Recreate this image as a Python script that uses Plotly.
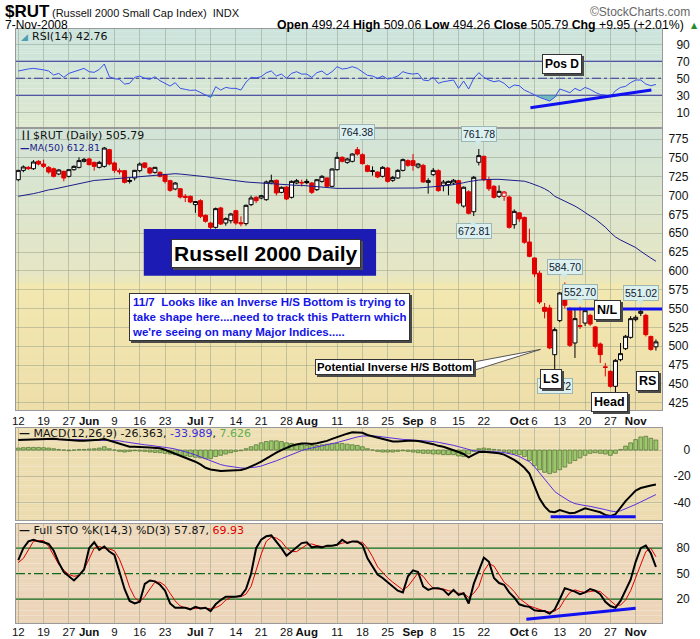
import pandas as pd
import plotly.graph_objects as go
from plotly.subplots import make_subplots

# ---------------------------------------------------------------- data
HOLIDAYS = {"2008-05-26", "2008-07-04", "2008-09-01"}
dates = [d.strftime("%Y-%m-%d") for d in pd.bdate_range("2008-05-12", "2008-11-07")
         if d.strftime("%Y-%m-%d") not in HOLIDAYS]

open_ = [721.0, 733.4, 737.4, 735.6, 745.4, 741.8, 737.4, 735.6, 728.6, 732.1,
         725.5, 734.3, 737.4, 745.4, 748.5, 744.0, 737.4, 738.7, 760.9, 743.2,
         733.0, 733.0, 720.0, 723.3, 733.0, 743.2, 736.5, 730.8, 730.8, 727.7,
         719.7, 708.7, 709.0, 699.0, 698.9, 687.9, 693.2, 673.7, 663.5, 657.8,
         683.5, 663.5, 666.6, 679.9, 664.0, 662.7, 687.9, 697.6, 696.7, 694.5,
         716.6, 720.2, 704.2, 711.3, 697.6, 716.6, 717.5, 718.8, 716.6, 707.8,
         718.8, 723.3, 712.2, 734.3, 750.7, 744.0, 745.4, 760.9, 754.2, 739.6,
         732.8, 731.2, 725.5, 736.5, 720.2, 723.3, 733.4, 746.3, 746.3, 737.9,
         740.0, 717.5, 727.7, 733.0, 713.5, 714.4, 716.6, 719.7, 686.0, 705.0,
         678.5, 744.1, 752.0, 721.0, 712.2, 699.0, 699.0, 698.0, 661.3, 677.0,
         671.0, 638.3, 617.1, 597.0, 551.6, 550.8, 488.8, 534.0, 578.2, 547.2,
         504.3, 527.5, 530.8, 541.0, 525.6, 503.0, 472.6, 466.7, 446.8, 482.2,
         496.8, 511.8, 535.3, 543.7, 541.0, 513.0, 499.24]
high = [734.0, 740.0, 739.0, 747.0, 747.0, 747.6, 739.0, 737.0, 735.0, 733.0,
        735.0, 740.0, 750.7, 750.0, 750.0, 745.0, 746.0, 764.5, 762.0, 745.0,
        736.0, 734.0, 724.0, 734.0, 744.0, 744.0, 738.0, 738.0, 732.0, 729.0,
        721.0, 718.0, 710.0, 702.0, 700.0, 692.5, 695.0, 675.0, 665.0, 684.0,
        685.0, 671.0, 677.0, 681.0, 672.4, 688.0, 700.0, 699.0, 701.0, 720.0,
        727.7, 721.0, 712.0, 712.0, 720.0, 722.0, 721.0, 722.0, 718.0, 722.0,
        727.0, 724.0, 736.0, 757.8, 752.0, 750.0, 756.0, 764.38, 756.0, 741.0,
        738.7, 732.0, 739.0, 738.0, 726.0, 735.0, 749.0, 748.0, 755.1, 743.0,
        742.0, 723.0, 736.5, 735.0, 720.6, 719.7, 722.0, 721.0, 712.0, 707.0,
        726.0, 761.78, 753.0, 725.0, 714.0, 713.5, 706.0, 700.0, 681.7, 678.0,
        672.0, 656.0, 618.0, 600.0, 557.4, 555.0, 525.0, 572.0, 584.70, 552.0,
        550.8, 552.70, 549.0, 543.0, 527.0, 505.0, 477.8, 468.0, 483.0, 504.3,
        515.0, 540.0, 541.0, 551.02, 543.0, 514.0, 509.06]
low = [719.0, 731.0, 734.0, 734.0, 740.0, 736.5, 729.0, 724.0, 727.0, 718.8,
       724.0, 733.0, 736.0, 744.0, 740.0, 733.0, 736.0, 737.0, 740.0, 729.9,
       728.0, 716.0, 716.0, 720.0, 731.0, 736.0, 728.0, 729.0, 724.0, 716.0,
       705.0, 707.0, 696.0, 691.4, 690.0, 677.0, 670.0, 664.0, 654.7, 656.0,
       661.0, 660.0, 663.0, 661.0, 659.1, 660.0, 686.0, 690.0, 695.0, 693.0,
       715.0, 700.0, 703.0, 694.0, 696.0, 715.0, 712.0, 715.0, 702.0, 706.0,
       717.0, 710.0, 711.0, 733.0, 744.0, 742.0, 744.0, 753.0, 741.0, 731.0,
       726.4, 723.0, 724.0, 717.0, 718.0, 722.0, 732.0, 738.0, 733.0, 736.0,
       717.0, 702.5, 726.0, 705.0, 705.6, 700.3, 714.0, 688.0, 684.0, 675.0,
       672.81, 740.0, 719.0, 706.0, 696.0, 696.7, 693.0, 656.0, 656.0, 665.0,
       636.0, 618.0, 592.0, 556.0, 537.0, 496.0, 466.72, 532.0, 550.0, 499.0,
       484.4, 523.0, 527.0, 527.0, 497.0, 477.8, 460.0, 445.0, 438.0, 480.0,
       495.0, 510.0, 533.0, 540.0, 513.0, 494.0, 494.26]
close = [733.4, 737.9, 735.6, 744.5, 741.8, 738.7, 731.2, 725.5, 733.9, 723.3,
         734.3, 738.7, 746.3, 748.0, 741.0, 738.7, 744.0, 763.0, 741.8, 733.4,
         731.5, 717.5, 719.0, 733.4, 741.8, 737.4, 729.9, 737.4, 725.5, 718.8,
         706.9, 716.6, 698.0, 697.5, 691.4, 692.0, 672.4, 665.8, 657.8, 682.6,
         662.2, 669.3, 675.5, 663.5, 662.6, 687.0, 696.7, 693.2, 699.8, 718.0,
         719.7, 703.4, 710.9, 695.4, 718.8, 719.7, 716.8, 717.0, 704.2, 721.0,
         725.5, 712.2, 735.2, 750.7, 745.4, 748.5, 755.1, 755.0, 742.3, 732.1,
         732.2, 724.6, 737.4, 718.8, 724.1, 733.4, 747.6, 740.1, 739.8, 741.8,
         718.0, 719.7, 733.4, 706.5, 717.9, 718.8, 720.2, 690.0, 711.0, 676.4,
         724.2, 752.9, 721.0, 709.0, 697.6, 705.6, 704.7, 657.8, 679.0, 669.0,
         638.0, 619.3, 595.9, 558.7, 546.3, 497.7, 522.0, 570.7, 554.3, 501.2,
         536.6, 526.2, 547.2, 529.5, 499.9, 488.8, 472.0, 446.8, 481.3, 490.2,
         513.2, 536.6, 538.4, 546.3, 515.4, 495.84, 505.79]
ma50 = [699, 700, 701, 702.5, 704, 706, 707.5, 708.5, 710, 711,
        712.5, 714, 716, 717.5, 719, 720, 720.5, 721, 721.5, 722.3,
        723, 723.5, 724, 724.5, 725, 726, 726.5, 727, 727.5, 728,
        728.5, 729, 728.5, 728, 727, 726.5, 726, 725, 724, 723,
        722, 721, 720, 719, 718.5, 718, 717.5, 717, 716.8, 716.5,
        716, 715.5, 715, 714.5, 714, 713.5, 713.5, 713, 712, 711.5,
        711, 710, 709.5, 709.5, 709.5, 709.5, 709.5, 709.5, 709.8, 710,
        710, 709.5, 709.5, 709.5, 709, 709.5, 710, 710, 710, 710,
        710.5, 711, 711.5, 712, 713, 713.5, 714.5, 715.5, 717, 718.5,
        720, 720.5, 721, 721.5, 721.5, 721.5, 721, 721, 720.5, 720,
        719, 717, 715, 712, 709, 705, 699, 696, 693, 690,
        686, 682, 677, 673, 669, 664, 658, 651, 645, 641,
        638, 635, 631, 626, 622, 617, 612.81]
rsi = [58.6, 60, 61, 61.7, 61, 60, 58.6, 53.9, 55.8, 51.1,
       55.8, 57.8, 60.5, 61.7, 57.8, 57, 60.5, 66.8, 51.9, 49.5,
       48.8, 43.3, 44.1, 51.1, 52.7, 50, 48.8, 51.9, 47.2, 44.1,
       40.9, 44.9, 38.2, 37, 35.8, 36.2, 33, 30.3, 27.6, 40.1,
       36.2, 39.3, 38.2, 38.2, 36.2, 45.5, 51.1, 50.5, 51.9, 56.5,
       58.6, 52.7, 55, 50, 55.8, 57.8, 55, 55, 51.1, 56.6,
       58.6, 53.9, 57.8, 63.7, 60.9, 61.7, 63.7, 61.7, 57.8, 53.5,
       52.7, 50, 52.7, 49.2, 50.5, 52.7, 57.8, 55.8, 55, 55.8,
       48, 47.2, 51.1, 44.1, 46, 46.8, 48, 38.2, 46.8, 37.4,
       50, 56.6, 51.1, 48, 46, 47.2, 44.1, 38.6, 42.1, 41.3,
       36.2, 33.5, 30.3, 27.6, 25.5, 23.3, 27.6, 37.4, 35.4, 33.1,
       38.2, 35.4, 39.3, 37, 33.5, 31, 30.3, 28.4, 35.4, 39.3,
       40.5, 44.9, 48, 48, 43.3, 41.3, 42.76]
macd = [7.6, 7.8, 8.1, 8.4, 8.5, 8.6, 8.7, 8.7, 8.3, 7.9, 7.5,
        7.3, 7.1, 7.1, 7.2, 7.4, 7.8, 8.4, 7.3, 6.2, 5,
        3.5, 2.5, 2.5, 2.5, 2.2, 1.9, 1.6, 1.3, 0.2, -1.3,
        -2.5, -4, -5.5, -7, -8.9, -11, -13.5, -14.8, -15.3, -16,
        -15.8, -15.5, -15.4, -15.3, -14.2, -12.7, -10.8, -8.9, -6.4, -4.3,
        -2, 0, 1.7, 3.3, 4.2, 5, 5, 4.6, 5.2, 5.9,
        7, 8.5, 10, 11.5, 12.5, 13.5, 13.6, 13.2, 11.5, 10.5,
        9, 8, 7.2, 6.5, 6.6, 7, 7.1, 7, 6.9, 6.2,
        5.5, 4.5, 3.2, 2.5, 1.2, 0, -1.5, -3, -5.6, -3.5,
        -1.5, -1.3, -1.6, -2, -2.5, -3.5, -5.5, -7.5, -10.2, -13.5,
        -18, -28, -37, -43, -47, -47.5, -45.8, -47, -48.3, -47.8,
        -46, -44.5, -45.5, -46.5, -47.5, -49.5, -50.4, -49, -44, -39,
        -35, -31, -29, -27.8, -27, -26.363]
macd_signal = [8.1, 8.1, 8.2, 8.2, 8.3, 8.4, 8.4, 8.4, 8.4, 8.3, 8.1,
               8, 7.9, 7.8, 7.7, 7.7, 7.7, 7.8, 7.7, 7.4, 7,
               6.3, 5.6, 5, 4.5, 4, 3.6, 3.2, 2.8, 2.3, 1.5,
               0.8, -0.1, -1.2, -2.4, -3.7, -5.2, -6.9, -8.5, -9.9, -11.1,
               -12, -12.7, -13.3, -13.7, -13.8, -13.6, -13, -12.2, -11, -9.7,
               -8.2, -6.6, -4.9, -3.3, -1.8, -0.4, 0.7, 1.5, 2.2, 2.9,
               3.7, 4.6, 5.7, 6.8, 8, 9.1, 10, 10.7, 10.9, 10.8,
               10.5, 10, 9.4, 8.8, 8.4, 8.1, 7.9, 7.7, 7.6, 7.4,
               7, 6.5, 5.9, 5.3, 4.5, 3.6, 2.6, 1.5, 0.1, -0.6,
               -0.8, -0.9, -1, -1.2, -1.5, -1.9, -2.6, -3.6, -4.9, -6.6,
               -8.9, -12.7, -17.6, -22.7, -27.6, -31.6, -34.4, -36.9, -39.2, -40.9,
               -41.9, -42.4, -43, -43.7, -44.5, -45.5, -46.5, -47, -46.4, -44.9,
               -43.2, -41.5, -39.6, -37.6, -35.8, -33.989]
macd_hist = [1.5, 1.8, 2, 2, 2, 1.8, 1.5, 1, 0.5, 0, -0.5,
             0, 0.5, 0.5, 0.8, 1, 1.5, 2.5, 1, 0, -1,
             -1.5, -1, -0.5, -0.8, -1, -1.5, -1.8, -2, -2.5, -3,
             -3.5, -4, -4.5, -5, -5.5, -6, -6.5, -6.5, -5, -4,
             -3, -2, -1, -0.5, 1, 2.5, 4, 5.5, 6.5, 7,
             7, 6.5, 5.5, 5, 4.5, 4, 3.5, 3.5, 3.5, 4,
             4.5, 5, 5, 5, 4.5, 4, 3.5, 2.5, 1, 0,
             -1, -1.5, -1.5, -1.5, -1, -0.5, -1, -1.5, -2, -2.5,
             -2.5, -3, -3, -3.5, -3.5, -3.5, -4.5, -5, -3, -1,
             1, 1.5, 1, 0.5, 0, -1, -2, -3, -3.5, -5,
             -8, -12, -15, -17, -18, -17, -15, -13, -10, -8,
             -6, -4, -2.5, -2, -2.5, -3, -4, -2.5, 0.5, 3,
             5.5, 8, 10, 10.5, 9, 7.626]
sto_k = [66, 80, 88, 90, 88, 87, 85, 77, 63, 52, 47,
         42, 48, 55, 80, 87, 78, 82, 76, 72, 52,
         32, 18, 15, 17, 38, 42, 41, 37, 30, 15,
         10, 10, 10, 8, 11, 9, 10, 6, 14, 19,
         23, 23, 23, 24, 32, 50, 80, 90, 94, 95,
         88, 80, 71, 76, 80, 86, 87, 81, 82, 81,
         83, 83, 84, 90, 86, 88, 88, 84, 68, 58,
         49, 45, 40, 34, 30, 28, 47, 54, 52, 35,
         31, 33, 33, 31, 25, 31, 25, 27, 15, 38,
         53, 69, 64, 45, 39, 37, 28, 22, 14, 12,
         11, 7, 6, 6, 3, 8, 20, 33, 31, 29,
         26, 28, 32, 30, 26, 17, 12, 10, 18, 30,
         43, 64, 80, 83, 74, 57.87]
sto_d = [63, 68, 78, 88, 89, 89, 82, 72, 61, 54, 49,
         47, 48, 55, 68, 80, 82, 80, 79, 77, 67,
         52, 34, 22, 17, 23, 32, 40, 40, 36, 27,
         18, 12, 10, 9, 9, 10, 9, 9, 10, 13,
         19, 22, 23, 23, 26, 35, 54, 73, 88, 93,
         92, 88, 80, 76, 76, 80, 84, 85, 83, 82,
         82, 83, 84, 86, 87, 88, 87, 87, 80, 70,
         58, 51, 45, 40, 35, 31, 35, 43, 51, 47,
         39, 33, 32, 32, 30, 29, 27, 27, 22, 27,
         35, 53, 62, 59, 49, 40, 35, 29, 21, 16,
         12, 10, 8, 6, 5, 6, 10, 20, 28, 31,
         29, 28, 29, 30, 29, 24, 18, 13, 13, 19,
         30, 46, 62, 76, 80, 69.93]

tick_dates = ["2008-05-12", "2008-05-19", "2008-05-27", "2008-06-02", "2008-06-09",
              "2008-06-16", "2008-06-23", "2008-07-01", "2008-07-07", "2008-07-14",
              "2008-07-21", "2008-07-28", "2008-08-01", "2008-08-11", "2008-08-18",
              "2008-08-25", "2008-09-02", "2008-09-08", "2008-09-15", "2008-09-22",
              "2008-10-01", "2008-10-06", "2008-10-13", "2008-10-20", "2008-10-27",
              "2008-11-03"]
tick_text = ["12", "19", "27", "<b>Jun</b>", "9", "16", "23", "<b>Jul</b>", "7", "14",
             "21", "28", "<b>Aug</b>", "11", "18", "25", "<b>Sep</b>", "8", "15", "22",
             "<b>Oct</b>", "6", "13", "20", "27", "<b>Nov</b>"]

price_ticks = list(range(425, 776, 25))

for series in (open_, high, low, close, ma50, rsi, macd, macd_signal, macd_hist, sto_k, sto_d):
    assert len(series) == len(dates), len(series)

# trading-day positions on the x axis (one slot per session, no weekend gaps)
pos = list(range(len(dates)))
day_of = {d: i for i, d in enumerate(dates)}
tick_pos = [day_of[d] for d in tick_dates]

# ---------------------------------------------------------------- layout helpers
W, H = 700, 639
L, R, T, B = 16, 662, 29, 623
SANS = "Liberation Sans, Arial, sans-serif"
VERD = "DejaVu Sans, Verdana, sans-serif"


def px(x):
    return (x - L) / (R - L)


def py(y):
    return 1 - (y - T) / (B - T)


fig = make_subplots(rows=4, cols=1, vertical_spacing=0)

DOMAINS = {1: (0.8328, 1.0), 2: (0.3586, 0.8328), 3: (0.1734, 0.3291), 4: (0.0, 0.1667)}
YRANGES = {1: (-8.8, 108.0), 2: (415.4, 789.2), 3: (-53.4, 17.2), 4: (-8.0, 108.5)}

# panel background gradients, drawn as thin horizontal bands
GRADIENTS = {
    1: [(0.0, (222, 232, 206)), (1.0, (203, 228, 221))],
    2: [(0.0, (238, 222, 170)), (0.45, (242, 232, 176)), (0.47, (231, 230, 196)),
        (1.0, (210, 228, 216))],
    3: [(0.0, (236, 219, 174)), (1.0, (238, 224, 180))],
    4: [(0.0, (236, 212, 184)), (1.0, (237, 217, 188))],
}


def grad_color(stops, t):
    for (t0, c0), (t1, c1) in zip(stops, stops[1:]):
        if t0 <= t <= t1:
            f = 0 if t1 == t0 else (t - t0) / (t1 - t0)
            return "rgb(%d,%d,%d)" % tuple(round(a + (b - a) * f) for a, b in zip(c0, c1))
    return "rgb(%d,%d,%d)" % stops[-1][1]


for row, stops in GRADIENTS.items():
    n = 40
    ax = "" if row == 1 else str(row)
    for k in range(n):
        fig.add_shape(type="rect", xref=f"x{ax} domain", yref=f"y{ax} domain",
                      x0=0, x1=1, y0=k / n, y1=(k + 1) / n + 0.002,
                      fillcolor=grad_color(stops, (k + 0.5) / n), line_width=0,
                      layer="below")

# indicator reference levels
for lvl, dash in ((70, "solid"), (50, "dashdot"), (30, "solid")):
    fig.add_shape(type="line", xref="x domain", yref="y", x0=0, x1=1, y0=lvl, y1=lvl,
                  line=dict(color="#2424b8", width=1.3, dash=dash), layer="below")
for lvl, dash in ((80, "solid"), (50, "dashdot"), (20, "solid")):
    fig.add_shape(type="line", xref="x4 domain", yref="y4", x0=0, x1=1, y0=lvl, y1=lvl,
                  line=dict(color="#0c6a1c", width=1.3, dash=dash), layer="below")

# ---------------------------------------------------------------- RSI panel
fig.add_trace(go.Scatter(x=pos, y=[30] * len(pos), mode="lines",
                         line=dict(width=0), hoverinfo="skip", showlegend=False), row=1, col=1)
fig.add_trace(go.Scatter(x=pos, y=[min(v, 30) for v in rsi], mode="lines",
                         line=dict(width=0), fill="tonexty", fillcolor="rgba(80,170,180,0.75)",
                         hoverinfo="skip", showlegend=False), row=1, col=1)
fig.add_trace(go.Scatter(x=pos, y=rsi, mode="lines", line=dict(color="#3850e8", width=1),
                         hoverinfo="skip", showlegend=False), row=1, col=1)

# ---------------------------------------------------------------- price panel
fig.add_trace(go.Scatter(x=pos, y=ma50, mode="lines", line=dict(color="#1c1c8c", width=1),
                         hoverinfo="skip", showlegend=False), row=2, col=1)

up_day = [True] + [close[i] >= close[i - 1] for i in range(1, len(close))]
for flag, col in ((True, "#000000"), (False, "#e00000")):
    idx = [i for i in pos if up_day[i] == flag]
    fig.add_trace(go.Candlestick(
        x=idx, open=[open_[i] for i in idx], high=[high[i] for i in idx],
        low=[low[i] for i in idx], close=[close[i] for i in idx],
        increasing=dict(line=dict(color=col, width=1), fillcolor="#ffffff"),
        decreasing=dict(line=dict(color=col, width=1), fillcolor=col),
        whiskerwidth=0, hoverinfo="skip", showlegend=False), row=2, col=1)

# ---------------------------------------------------------------- MACD panel
fig.add_trace(go.Bar(x=pos, y=macd_hist,
                     marker=dict(color="#9cc86c", line=dict(color="#5a7a3a", width=0.8)),
                     width=0.75, hoverinfo="skip", showlegend=False), row=3, col=1)
fig.add_trace(go.Scatter(x=pos, y=macd_signal, mode="lines", line=dict(color="#5a2ee0", width=1),
                         hoverinfo="skip", showlegend=False), row=3, col=1)
fig.add_trace(go.Scatter(x=pos, y=macd, mode="lines", line=dict(color="#000000", width=2),
                         hoverinfo="skip", showlegend=False), row=3, col=1)

# ---------------------------------------------------------------- Stochastics panel
fig.add_trace(go.Scatter(x=pos, y=sto_d, mode="lines", line=dict(color="#e00000", width=1),
                         hoverinfo="skip", showlegend=False), row=4, col=1)
fig.add_trace(go.Scatter(x=pos, y=sto_k, mode="lines", line=dict(color="#000000", width=2),
                         hoverinfo="skip", showlegend=False), row=4, col=1)

# ---------------------------------------------------------------- axes
XRANGE = [-0.45, 127.2]
for row in range(1, 5):
    ax = "" if row == 1 else str(row)
    show = row in (2, 4)
    fig.update_layout({
        f"xaxis{ax}": dict(type="linear", range=XRANGE, tickmode="array", tickvals=tick_pos,
                           ticktext=tick_text, tickangle=0, automargin=False,
                           showticklabels=show, ticks="", showgrid=True,
                           gridcolor="rgba(140,150,130,0.45)", gridwidth=1,
                           showline=True, mirror=True, linecolor="#9a9a9a", linewidth=1,
                           tickfont=dict(family=SANS, size=11.5, color="#111"),
                           rangeslider=dict(visible=False), fixedrange=True, zeroline=False),
        f"yaxis{ax}": dict(domain=DOMAINS[row], range=YRANGES[row], side="right", ticks="",
                           automargin=False,
                           showline=True, mirror=True, linecolor="#9a9a9a", linewidth=1,
                           gridcolor="rgba(140,150,130,0.45)", gridwidth=1, zeroline=False,
                           tickfont=dict(family=SANS, size=12, color="#111"), fixedrange=True),
    })

fig.update_layout(
    xaxis4=dict(ticklabelstandoff=-2),
    yaxis=dict(tickmode="array", tickvals=[10, 30, 50, 70, 90], showgrid=True,
               ticklabelstandoff=11),
    yaxis2=dict(tickmode="array", tickvals=price_ticks, showgrid=True, ticklabelstandoff=3),
    yaxis3=dict(tickmode="array", tickvals=[0, -20, -40],
                ticktext=["\u2007\u00a00", "-20", "-40"], showgrid=True, ticklabelstandoff=8),
    yaxis4=dict(tickmode="array", tickvals=[20, 50, 80], showgrid=False, ticklabelstandoff=11),
)

# ---------------------------------------------------------------- drawn annotations
BLUE = "#1010f0"
# divergence trend lines and the neckline
fig.add_shape(type="line", xref="x", yref="y", x0=101.2, y0=15.4, x1=125.1, y1=36.2,
              line=dict(color=BLUE, width=3))
fig.add_shape(type="line", xref="x2", yref="y2", x0=108.4, y0=549.5, x1=127.2, y1=549.5,
              line=dict(color=BLUE, width=3))
fig.add_shape(type="line", xref="x3", yref="y3", x0=105.2, y0=-50.9, x1=122.0, y1=-50.9,
              line=dict(color=BLUE, width=3))
fig.add_shape(type="line", xref="x4", yref="y4", x0=100.4, y0=-3.6, x1=122.0, y1=9.3,
              line=dict(color=BLUE, width=3))

# title block
fig.add_shape(type="rect", xref="x2", yref="y2", x0=24.8, x1=70.7, y0=593.6, y1=655.6,
              fillcolor="#1c1cb4", line_width=0)
# callout wedge
fig.add_shape(type="path", xref="x2", yref="y2",
              path="M 90.3,479.5 L 103.2,495.8 L 90.3,468.5 Z",
              fillcolor="#ffffff", line=dict(color="#555555", width=1))


def boxed(text, x, y, xref, yref, size, color="#000", align="center", pad=2, shadow=True):
    if shadow:
        fig.add_annotation(x=x, y=y, xref=xref, yref=yref, text=text, showarrow=False,
                           font=dict(family=SANS, size=size, color="rgba(0,0,0,0)"),
                           bgcolor="#4a4a4a", bordercolor="#4a4a4a", borderwidth=1,
                           borderpad=pad, xshift=2, yshift=-2, align=align)
    fig.add_annotation(x=x, y=y, xref=xref, yref=yref, text=text, showarrow=False,
                       font=dict(family=SANS, size=size, color=color),
                       bgcolor="#ffffff", bordercolor="#333333", borderwidth=1,
                       borderpad=pad, align=align)


def value_tag(i, value, above=True):
    fig.add_annotation(x=i, y=value, xref="x2", yref="y2", text=f"{value:.2f}", showarrow=False,
                       font=dict(family=SANS, size=10.5, color="#102030"),
                       bgcolor="#dcf1ef", bordercolor="#9cb6b6", borderwidth=1, borderpad=1,
                       yanchor="bottom" if above else "top", yshift=7 if above else -7)
    fig.add_annotation(x=i, y=value, xref="x2", yref="y2", text="\u25bc" if above else "\u25b2",
                       showarrow=False, font=dict(family=VERD, size=8, color="#cfe9e6"),
                       yanchor="bottom" if above else "top", yshift=-1 if above else 1)


value_tag(106, low[106], above=False)
value_tag(67, high[67])
value_tag(91, high[91])
value_tag(90, low[90], above=False)
value_tag(108, high[108])
value_tag(111, high[111])
value_tag(123, high[123])

boxed("<b>Russell 2000 Daily</b>", 49.0, 623.4, "x2", "y2", 21, pad=2)
boxed("<b>11/7  Looks like an Inverse H/S Bottom is trying to<br>"
      "take shape here....need to track this Pattern which<br>"
      "we're seeing on many Major Indices.....</b>",
      49.6, 538.2, "x2", "y2", 11.5, color="#1414e6", align="left", pad=2)
boxed("<b>Potential Inverse H/S Bottom</b>", 74.4, 472.5, "x2", "y2", 11.3, pad=1)
boxed("<b>N/L</b>", 116.5, 548.0, "x2", "y2", 12.5, pad=2)
boxed("<b>LS</b>", 105.2, 457.0, "x2", "y2", 12.5, pad=2)
boxed("<b>RS</b>", 124.4, 453.5, "x2", "y2", 12.5, pad=2)
boxed("<b>Head</b>", 116.8, 426.5, "x2", "y2", 12.5, pad=2)
boxed("<b>Pos D</b>", 107.5, 67.4, "x", "y", 12, pad=2)


def text(x, y, s, size, family, color="#000", anchor="left"):
    fig.add_annotation(x=px(x), y=py(y), xref="paper", yref="paper", text=s, showarrow=False,
                       xanchor=anchor, yanchor="middle",
                       font=dict(family=family, size=size, color=color))


# panel legends
text(30, 36.5, "RSI(14) 42.76", 11, VERD, "#111")
text(19, 36.5, "\u25e2", 9, VERD, "#4aa0b0")
text(31, 135.0, "$RUT (Daily) 505.79", 11, VERD, "#111")
text(19, 135.0, "\u2503\u2503", 8, VERD, "#222")
text(18, 147.0, "<b>\u2014</b>MA(50) 612.81", 9.5, VERD, "#1c1c8c")
text(17, 433.0, "<b>\u2014</b> MACD(12,26,9) -26.363, <span style='color:#3a2ee0'>-33.989</span>, "
     "<span style='color:#60b050'>7.626</span>", 11, VERD, "#111")
text(17, 530.5, "<b>\u2014</b> Full STO %K(14,3) %D(3) 57.87, <span style='color:#e00000'>69.93</span>",
     11, VERD, "#111")

# header
text(3, 11.0, "<b>$RUT</b>", 17, SANS, "#000")
text(50, 12.5, "(Russell 2000 Small Cap Index)  INDX", 11, SANS, "#111")
text(3, 24.5, "7-Nov-2008", 12, SANS, "#000")
text(692, 11.5, "\u00a9StockCharts.com", 12, SANS, "#666", anchor="right")
text(686, 24.5, "<b>Open</b> 499.24 <b>High</b> 509.06 <b>Low</b> 494.26 <b>Close</b> 505.79 "
     "<b>Chg</b> +9.95 (+2.01%)", 12.3, SANS, "#000", anchor="right")
text(689, 25.0, "\u25b2", 8, VERD, "#2a8a2a")

fig.update_layout(
    width=W, height=H,
    margin=dict(l=L, r=W - R, t=T, b=H - B, pad=0, autoexpand=False),
    paper_bgcolor="#ffffff", plot_bgcolor="#ffffff",
    showlegend=False, boxgap=0.12, boxgroupgap=0.1, bargap=0.2,
    hovermode=False,
)

fig.write_html("out.html")
